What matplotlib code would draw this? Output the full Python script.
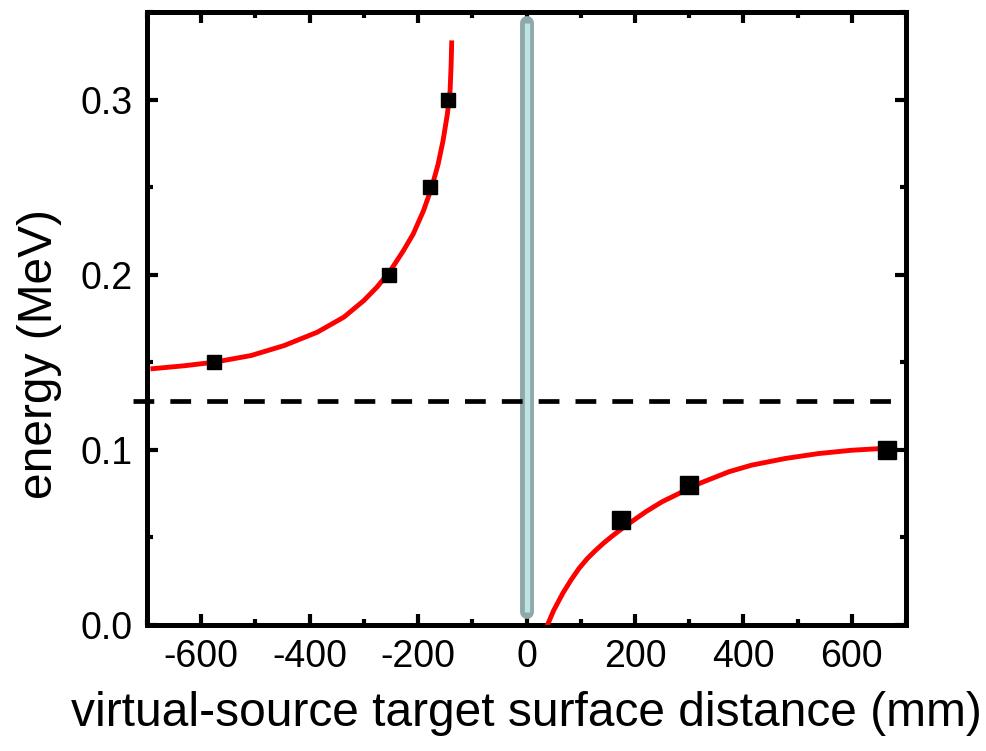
import matplotlib
matplotlib.use("Agg")
import matplotlib.pyplot as plt
from matplotlib.ticker import MultipleLocator

plt.rcParams["font.family"] = ["Liberation Sans", "DejaVu Sans"]
plt.rcParams["axes.unicode_minus"] = False

# measured points
left_x = [-576, -253, -178, -145]
left_e = [0.150, 0.200, 0.250, 0.300]
right_x = [175, 300, 665]
right_e = [0.060, 0.080, 0.100]

# fit curves
fit_left_x = [-689, -630, -576, -508, -447, -386, -337, -300, -276, -251,
              -227, -209, -190, -175, -163, -154, -146, -141, -139, -138]
fit_left_e = [0.1463, 0.1480, 0.1500, 0.1538, 0.1595, 0.1671, 0.1757, 0.1852,
              0.1928, 0.2023, 0.2137, 0.2232, 0.2365, 0.2497, 0.2631, 0.2764,
              0.2916, 0.3048, 0.3200, 0.3324]
fit_right_x = [36, 50, 67, 82, 97, 112, 128, 143, 158, 174, 189, 220, 250, 281,
               311, 342, 373, 415, 477, 538, 599, 654]
fit_right_e = [-0.002, 0.0082, 0.0181, 0.0256, 0.0323, 0.0378, 0.0427, 0.0469,
               0.0507, 0.0545, 0.0579, 0.0646, 0.0703, 0.0750, 0.0798, 0.0836,
               0.0874, 0.0912, 0.0950, 0.0978, 0.0997, 0.1007]

e_ref = 0.128

fig = plt.figure(figsize=(9.86, 7.51), dpi=100)
ax = fig.add_axes([0.149, 0.168, 0.770, 0.816])

# vertical bar at zero
ax.plot([0, 0], [0.0075, 0.344], color="#8fa8aa", lw=10, solid_capstyle="round", zorder=2)
ax.plot([0, 0], [0.0075, 0.344], color="#bfe3e3", lw=3.8, solid_capstyle="butt", zorder=2)

ax.plot([-725, 690], [e_ref, e_ref], color="black", lw=3.4, ls=(0, (4.4, 3.4)),
        clip_on=False, zorder=3)

ax.plot(fit_left_x, fit_left_e, color="red", lw=3.5, zorder=4)
ax.plot(fit_right_x, fit_right_e, color="red", lw=3.5, zorder=4)

ax.plot(left_x, left_e, "s", color="black", ms=10, zorder=5)
ax.plot(right_x, right_e, "s", color="black", ms=13.5, zorder=5)

ax.set_xlim(-700, 700)
ax.set_ylim(0, 0.35)
ax.xaxis.set_major_locator(MultipleLocator(200))
ax.xaxis.set_minor_locator(MultipleLocator(100))
ax.yaxis.set_minor_locator(MultipleLocator(0.05))
ax.set_yticks([0.0, 0.1, 0.2, 0.3])
ax.set_yticklabels(["0.0", "0.1", "0.2", "0.3"])

for s in ax.spines.values():
    s.set_linewidth(3.6)
ax.tick_params(which="both", direction="in", top=True, right=True, width=3,
               labelsize=27, pad=10)
ax.tick_params(which="major", length=8)
ax.tick_params(which="minor", length=4)

ax.set_xlabel("virtual-source target surface distance (mm)", fontsize=34.5, labelpad=12)
ax.set_ylabel("energy (MeV)", fontsize=34.5)
ax.yaxis.set_label_coords(-0.112, 0.442)

fig.savefig("out.png", dpi=100)
